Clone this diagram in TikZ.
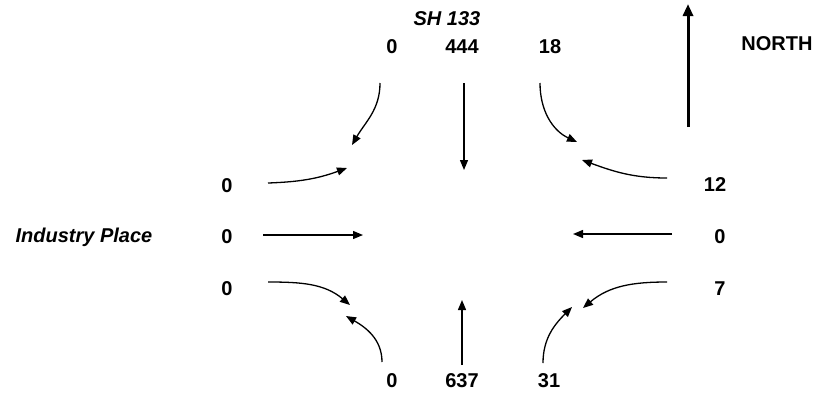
\documentclass[tikz,border=0pt]{standalone}
\usepackage{fontspec}
\setmainfont{Liberation Sans}
\usetikzlibrary{arrows.meta}

\begin{document}
\begin{tikzpicture}[x=0.5pt, y=0.5pt, ->, >={Triangle[length=5pt, width=4pt]}, line width=0.65pt]
    \tikzstyle{every node}=[font=\fontsize{10}{11}\selectfont\bfseries, inner sep=0pt]
    \tikzstyle{street}=[font=\fontsize{10}{11}\selectfont\bfseries\itshape]
    \useasboundingbox (0,0) rectangle (818,393);

    \node[street] (sh) at (447,374) {SH 133};
    \node[street, anchor=east] (ind) at (153,156) {Industry Place};
    \node (north) at (777,349) {NORTH};

    \node (nl) at (392,346) {0};
    \node (nt) at (462,346) {444};
    \node (nr) at (550,346) {18};
    \node (wl) at (227,207) {0};
    \node (wt) at (227,156) {0};
    \node (wr) at (227,104) {0};
    \node (el) at (715,208) {12};
    \node (et) at (720,156) {0};
    \node (er) at (720,104) {7};
    \node (sr) at (392,12) {0};
    \node (st) at (462,12) {637};
    \node (sl) at (549,12) {31};

    \coordinate (nl0) at (380,310);  \coordinate (nl1) at (352,248);
    \coordinate (nt0) at (464,310);  \coordinate (nt1) at (464,223);
    \coordinate (nr0) at (540,310);  \coordinate (nr1) at (577,251);
    \coordinate (wl0) at (268,210);  \coordinate (wl1) at (347,225);
    \coordinate (wt0) at (263,158);  \coordinate (wt1) at (363,158);
    \coordinate (wr0) at (268,111);  \coordinate (wr1) at (350,88);
    \coordinate (el0) at (667,215);  \coordinate (el1) at (582,233);
    \coordinate (et0) at (672,159);  \coordinate (et1) at (573,159);
    \coordinate (er0) at (667,111);  \coordinate (er1) at (583,85);
    \coordinate (sr0) at (382,31);   \coordinate (sr1) at (346,77);
    \coordinate (st0) at (462,28);   \coordinate (st1) at (462,93);
    \coordinate (sl0) at (543,30);   \coordinate (sl1) at (572,86);
    \coordinate (n0) at (688,266);   \coordinate (n1) at (688,389);

    \draw (nl0) to[out=-90, in=60] (nl1);
    \draw (nt0) -- (nt1);
    \draw (nr0) to[out=-90, in=155] (nr1);
    \draw (wl0) to[out=2, in=200] (wl1);
    \draw (wt0) -- (wt1);
    \draw (wr0) to[out=0, in=140] (wr1);
    \draw (el0) to[out=180, in=-20] (el1);
    \draw (et0) -- (et1);
    \draw (er0) to[out=180, in=40] (er1);
    \draw (sr0) to[out=90, in=-30] (sr1);
    \draw (st0) -- (st1);
    \draw (sl0) to[out=90, in=-135] (sl1);
    \draw[line width=1.5pt, >={Triangle[length=6pt, width=5pt]}] (n0) -- (n1);
\end{tikzpicture}
\end{document}
